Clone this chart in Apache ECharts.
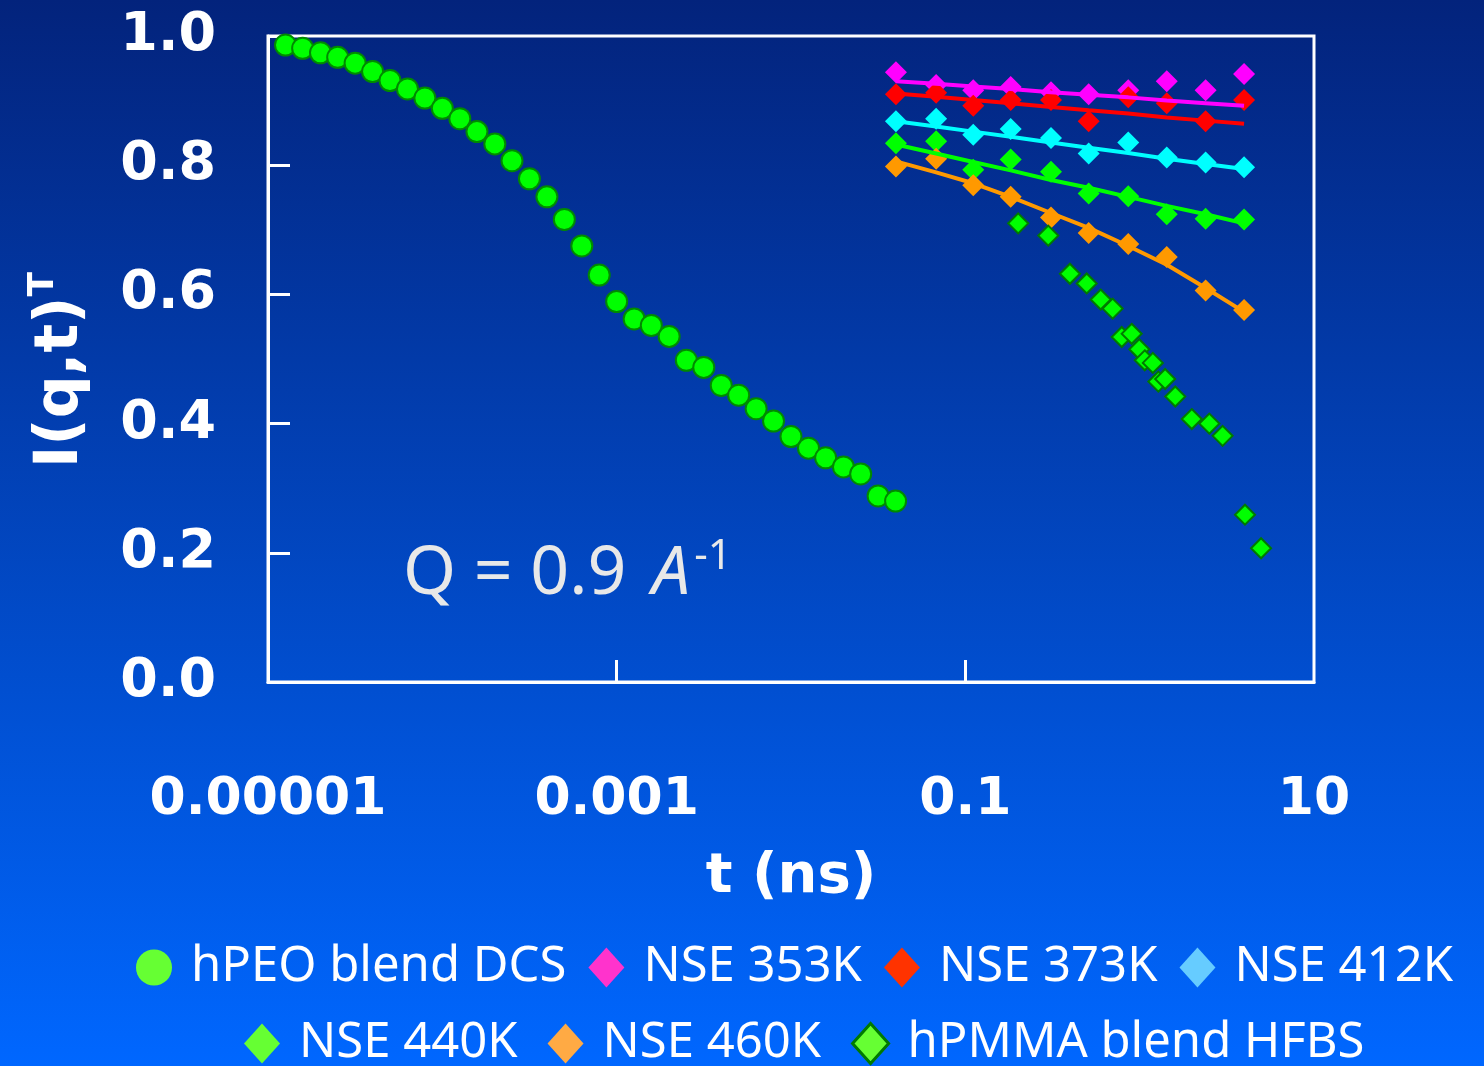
<!DOCTYPE html>
<html>
<head>
<meta charset="utf-8">
<title>I(q,t) relaxation</title>
<script src="https://cdn.jsdelivr.net/npm/echarts@6/dist/echarts.min.js"></script>
<style>
  html, body { margin: 0; padding: 0; background: #0a3aa0; }
  #chart { width: 1484px; height: 1066px; }
</style>
</head>
<body>
<div id="chart"></div>
<script>
// hPEO blend, DCS
const dcsT = [1.26e-5, 1.58e-5, 2.00e-5, 2.51e-5, 3.16e-5, 3.98e-5, 5.01e-5, 6.31e-5, 7.94e-5,
  1.00e-4, 1.26e-4, 1.58e-4, 2.00e-4, 2.51e-4, 3.16e-4, 3.98e-4, 5.01e-4, 6.31e-4, 7.94e-4,
  1.00e-3, 1.26e-3, 1.58e-3, 2.00e-3, 2.51e-3, 3.16e-3, 3.98e-3, 5.01e-3, 6.31e-3, 7.94e-3,
  1.00e-2, 1.26e-2, 1.58e-2, 2.00e-2, 2.51e-2, 3.16e-2, 3.98e-2];
const dcsI = [0.986, 0.981, 0.974, 0.967, 0.958, 0.945, 0.931, 0.918, 0.904,
  0.888, 0.872, 0.852, 0.833, 0.807, 0.779, 0.751, 0.716, 0.675, 0.630,
  0.589, 0.562, 0.552, 0.535, 0.498, 0.487, 0.459, 0.444, 0.423, 0.404,
  0.380, 0.362, 0.347, 0.333, 0.322, 0.288, 0.280];

// NSE, common Fourier times
const nseT = [0.040, 0.068, 0.111, 0.182, 0.31, 0.51, 0.86, 1.43, 2.39, 3.97];
const nse353 = [0.944, 0.924, 0.916, 0.921, 0.913, 0.910, 0.916, 0.930, 0.916, 0.941];
const nse373 = [0.910, 0.912, 0.892, 0.901, 0.901, 0.868, 0.905, 0.896, 0.868, 0.901];
const nse412 = [0.868, 0.872, 0.847, 0.856, 0.842, 0.818, 0.835, 0.812, 0.804, 0.797];
const nse440 = [0.834, 0.837, 0.793, 0.809, 0.790, 0.756, 0.752, 0.724, 0.717, 0.716];
const nse460 = [0.798, 0.810, 0.769, 0.751, 0.719, 0.695, 0.678, 0.658, 0.606, 0.576];

// fitted curves through the NSE data
const fit353 = [0.930, 0.926, 0.922, 0.918, 0.913, 0.909, 0.905, 0.900, 0.896, 0.892];
const fit373 = [0.911, 0.906, 0.901, 0.896, 0.890, 0.885, 0.880, 0.874, 0.869, 0.864];
const fit412 = [0.868, 0.860, 0.852, 0.844, 0.835, 0.827, 0.819, 0.810, 0.802, 0.794];
const fit440 = [0.832, 0.818, 0.805, 0.792, 0.777, 0.765, 0.751, 0.737, 0.724, 0.710];
const fit460 = [0.806, 0.789, 0.772, 0.751, 0.726, 0.703, 0.675, 0.646, 0.610, 0.573];

// hPMMA blend, HFBS
const hfbsT = [0.201, 0.299, 0.398, 0.497, 0.598, 0.700, 0.789, 0.900, 0.995, 1.07,
  1.19, 1.28, 1.40, 1.60, 1.99, 2.51, 2.99, 4.02, 4.97];
const hfbsI = [0.710, 0.691, 0.632, 0.617, 0.592, 0.578, 0.534, 0.539, 0.515, 0.498,
  0.494, 0.465, 0.469, 0.442, 0.407, 0.400, 0.381, 0.259, 0.207];

// axis ticks
const xTickValues = [1e-5, 1e-3, 0.1, 10];
const xTickLabels = ['0.00001', '0.001', '0.1', '10'];
const xInnerTicks = [1e-3, 0.1];

const legendRow1 = ['hPEO blend DCS', 'NSE 353K', 'NSE 373K', 'NSE 412K'];
const legendRow2 = ['NSE 440K', 'NSE 460K', 'hPMMA blend HFBS'];

const pairs = (xs, ys) => xs.map((x, i) => [x, ys[i]]);

const numFont = "'DejaVu Sans', sans-serif";
const textFont = "'Comic Sans MS', 'Noto Sans', sans-serif";

function nseSeries(name, values, fit, color) {
  return [
    {
      name: name, type: 'scatter', symbol: 'diamond', symbolSize: 22,
      itemStyle: { color: color, opacity: 1 }, data: pairs(nseT, values)
    },
    {
      name: name + ' fit', type: 'line', showSymbol: false, symbol: 'none',
      lineStyle: { color: color, width: 4, opacity: 1 }, data: pairs(nseT, fit)
    }
  ];
}

const chart = echarts.init(document.getElementById('chart'), null, { renderer: 'canvas' });

const legendText = { color: '#ffffff', fontSize: 49, fontFamily: textFont, padding: [0, 0, 0, 14] };

chart.setOption({
  animation: false,
  backgroundColor: {
    type: 'linear', x: 0, y: 0, x2: 0, y2: 1,
    colorStops: [
      { offset: 0, color: '#03237c' },
      { offset: 1, color: '#0067ff' }
    ]
  },
  grid: {
    left: 268, right: 170, top: 36, bottom: 384,
    show: true, borderColor: '#ffffff', borderWidth: 3,
    outerBoundsMode: 'none'
  },
  xAxis: {
    type: 'log', logBase: 10, min: 1e-5, max: 10,
    name: 't (ns)', nameLocation: 'middle', nameGap: 167,
    nameTextStyle: { color: '#ffffff', fontSize: 56, fontWeight: 'bold', fontFamily: numFont },
    axisLine: { show: true, lineStyle: { color: '#ffffff', width: 3 } },
    axisTick: { show: true, inside: true, length: 22, customValues: xInnerTicks,
      lineStyle: { color: '#ffffff', width: 3 } },
    axisLabel: {
      customValues: xTickValues,
      margin: 92, color: '#ffffff', fontSize: 52, fontWeight: 'bold', fontFamily: numFont,
      formatter: function (v) {
        let best = 0, d = Infinity;
        xTickValues.forEach((t, i) => {
          const e = Math.abs(Math.log10(t) - Math.log10(v));
          if (e < d) { d = e; best = i; }
        });
        return xTickLabels[best];
      }
    },
    splitLine: { show: false },
    minorTick: { show: false }
  },
  yAxis: {
    type: 'value', min: 0, max: 1, interval: 0.2,
    name: '{m|I(q,t)}{s|T}', nameLocation: 'middle', nameGap: 172, nameRotate: 90,
    nameTextStyle: {
      color: '#ffffff',
      rich: {
        m: { fontSize: 60, fontWeight: 'bold', fontFamily: numFont, color: '#ffffff', lineHeight: 70 },
        s: { fontSize: 36, fontWeight: 'bold', fontFamily: numFont, color: '#ffffff', lineHeight: 36,
          verticalAlign: 'top', padding: [0, 22, 0, 0] }
      }
    },
    axisLine: { show: true, lineStyle: { color: '#ffffff', width: 3 } },
    axisTick: { show: true, inside: true, length: 22, lineStyle: { color: '#ffffff', width: 3 } },
    axisLabel: {
      margin: 52, color: '#ffffff', fontSize: 54, fontWeight: 'bold', fontFamily: numFont,
      formatter: v => v.toFixed(1)
    },
    splitLine: { show: false }
  },
  legend: [
    {
      left: 131, top: 938, orient: 'horizontal', itemGap: 22,
      itemWidth: 36, itemHeight: 40, textStyle: legendText,
      data: [
        { name: legendRow1[0], icon: 'circle', itemStyle: { color: '#66ff33', borderWidth: 0, opacity: 1 } },
        { name: legendRow1[1], icon: 'diamond', itemStyle: { color: '#ff33cc', opacity: 1 } },
        { name: legendRow1[2], icon: 'diamond', itemStyle: { color: '#ff3300', opacity: 1 } },
        { name: legendRow1[3], icon: 'diamond', itemStyle: { color: '#66ccff', opacity: 1 } }
      ]
    },
    {
      left: 239, top: 1014, orient: 'horizontal', itemGap: 30,
      itemWidth: 36, itemHeight: 40, textStyle: legendText,
      data: [
        { name: legendRow2[0], icon: 'diamond', itemStyle: { color: '#66ff33', opacity: 1 } },
        { name: legendRow2[1], icon: 'diamond', itemStyle: { color: '#ffaa44', opacity: 1 } },
        { name: legendRow2[2], icon: 'diamond', itemStyle: { color: '#66ff33', borderColor: '#007a00', borderWidth: 3, opacity: 1 } }
      ]
    }
  ],
  graphic: [
    {
      type: 'text', left: 403, top: 536, silent: true,
      style: {
        text: '{q|Q = 0.9 }{a|A}{s|-1}',
        rich: {
          q: { fontSize: 68, fontFamily: textFont, fill: '#e8e8e8', lineHeight: 78 },
          a: { fontSize: 68, fontFamily: textFont, fontStyle: 'italic', fill: '#e8e8e8', lineHeight: 78, padding: [0, 4, 0, 8] },
          s: { fontSize: 42, fontFamily: textFont, fill: '#e8e8e8', lineHeight: 42, verticalAlign: 'top' }
        }
      }
    }
  ],
  series: [
    {
      name: 'hPEO blend DCS', type: 'scatter', symbol: 'circle', symbolSize: 21,
      itemStyle: { color: '#00ff00', borderColor: '#008a00', borderWidth: 2, opacity: 1 },
      data: pairs(dcsT, dcsI)
    },
    ...nseSeries('NSE 353K', nse353, fit353, '#ff00ff'),
    ...nseSeries('NSE 373K', nse373, fit373, '#ff0000'),
    ...nseSeries('NSE 412K', nse412, fit412, '#00ffff'),
    ...nseSeries('NSE 440K', nse440, fit440, '#00ff00'),
    ...nseSeries('NSE 460K', nse460, fit460, '#ff9900'),
    {
      name: 'hPMMA blend HFBS', type: 'scatter', symbol: 'diamond', symbolSize: 20,
      itemStyle: { color: '#00ff00', borderColor: '#007a00', borderWidth: 2, opacity: 1 },
      data: pairs(hfbsT, hfbsI)
    }
  ]
});
</script>
</body>
</html>
